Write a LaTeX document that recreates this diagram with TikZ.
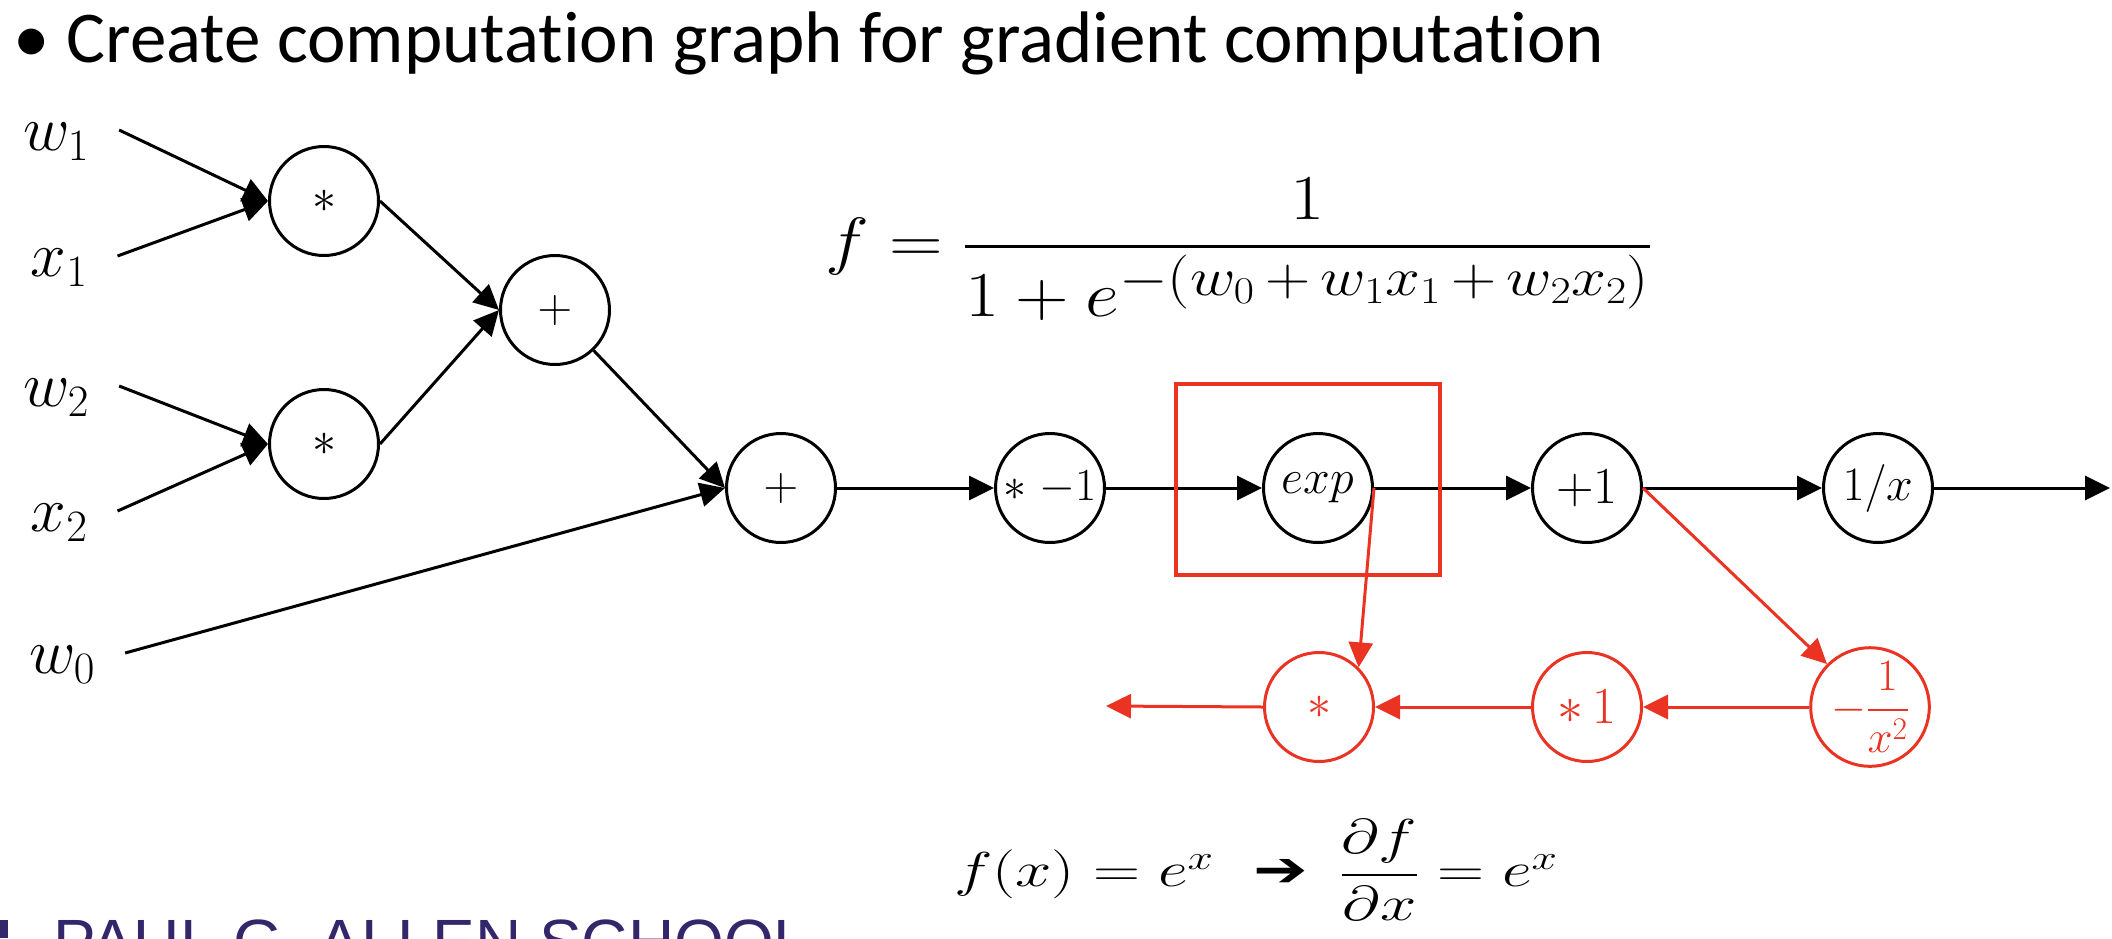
\RequirePackage{fix-cm}
\documentclass[tikz,border=0pt]{standalone}
\usepackage{fontspec}
\usepackage{amsmath,amssymb}
\usepackage{graphicx}
\setmainfont{Carlito}[Ligatures={NoCommon}]
\newfontfamily\arrowfont{DejaVu Sans}
\newfontfamily\schoolfont{Liberation Sans}
\usetikzlibrary{arrows.meta}
\definecolor{bpred}{RGB}{234,51,35}
\definecolor{uwpurple}{RGB}{51,38,107}

\begin{document}
\begin{tikzpicture}[x=1pt,y=-1pt,
  op/.style={draw,circle,line width=3pt,minimum size=109pt,inner sep=0pt,font=\fontsize{48}{48}\selectfont},
  bp/.style={op,draw=bpred,text=bpred},
  lbl/.style={inner xsep=30pt,inner ysep=0pt,font=\fontsize{64}{64}\selectfont},
  arr/.style={line width=3pt,-{Triangle[length=25pt,width=24pt]}},
  barr/.style={arr,draw=bpred}]
\useasboundingbox (0,0) rectangle (2112,938);
\clip (0,0) rectangle (2112,938);
\node (title) at (13,62) [anchor=base west,inner sep=0pt,font=\fontsize{73}{80}\selectfont] {•\hspace{17pt}Create computation graph for gradient computation};
\node (in-w1) at (56,142) [lbl] {$w_1$};
\node (in-x1) at (59,268) [lbl] {$x_1$};
\node (in-w2) at (56,398) [lbl] {$w_2$};
\node (in-x2) at (59,523) [lbl] {$x_2$};
\node (in-w0) at (62,665) [lbl] {$w_0$};
\node (op-mul1) at (324,201) [op] {$\ast$};
\node (op-mul2) at (324,444) [op] {$\ast$};
\node (op-add1) at (555,310) [op] {$+$};
\node (op-add2) at (781,488) [op] {$+$};
\node (op-neg) at (1050,488) [op,font=\fontsize{46}{46}\selectfont] {$\ast\;{-1}$};
\node (op-exp) at (1318,488) [op] {$exp$};
\node (op-inc) at (1587,488) [op,font=\fontsize{52}{52}\selectfont] {$+1$};
\node (op-inv) at (1878,488) [op] {$1/x$};
\coordinate (out) at (2110,488);
\node (bp-mul) at (1319,707) [bp] {$\ast$};
\node (bp-one) at (1587,707) [bp,font=\fontsize{52}{52}\selectfont] {$\ast\,1$};
\node (bp-inv) at (1870,707) [bp,font=\fontsize{45}{45}\selectfont] {$-\dfrac{1}{x^2}$};
\coordinate (bp-out) at (1106,706);
\node (fdef) at (825,249) [anchor=west,inner sep=0pt,font=\fontsize{64}{64}\selectfont] {\scalebox{1.16}[1]{$f = \dfrac{1}{1+e^{\mbox{\fontsize{54}{54}\selectfont\medmuskip=3mu$-(w_0+w_1x_1+w_2x_2)$}}}$}};
\node (fexp) at (954,870) [anchor=west,inner sep=0pt,font=\fontsize{49}{49}\selectfont] {\scalebox{1.33}[1]{$f(x) = e^x$\hspace{30pt}{\arrowfont ➔}\hspace{24pt}$\dfrac{\partial f}{\partial x} = e^x$}};
\node (school) at (53,920) [anchor=north west,inner sep=0pt,font=\schoolfont\fontsize{64}{70}\selectfont,text=uwpurple] {PAUL G. ALLEN SCHOOL};
\fill[uwpurple] (0,920) rectangle (8,938);
\draw[arr] ([yshift=12pt]in-w1.east) -- (op-mul1.west);
\draw[arr] ([yshift=12pt]in-x1.east) -- (op-mul1.west);
\draw[arr] ([yshift=12pt]in-w2.east) -- (op-mul2.west);
\draw[arr] ([yshift=12pt]in-x2.east) -- (op-mul2.west);
\draw[arr] (op-mul1.east) -- (op-add1.west);
\draw[arr] (op-mul2.east) -- (op-add1.west);
\draw[arr] (op-add1) -- (op-add2.west);
\draw[arr] ([yshift=12pt]in-w0.east) -- (op-add2.west);
\draw[arr] (op-add2.east) -- (op-neg.west);
\draw[arr] (op-neg.east) -- (op-exp.west);
\draw[arr] (op-exp.east) -- (op-inc.west);
\draw[arr] (op-inc.east) -- (op-inv.west);
\draw[arr] (op-inv.east) -- (out);
\draw[bpred,line width=3.5pt] (1176,384) rectangle (1440,575);
\draw[barr] (op-exp.east) -- (bp-mul.45);
\draw[barr] (op-inc.east) -- (bp-inv.135);
\draw[barr] (bp-inv.west) -- (bp-one.east);
\draw[barr] (bp-one.west) -- (bp-mul.east);
\draw[barr] (bp-mul.west) -- (bp-out);
\end{tikzpicture}
\end{document}
